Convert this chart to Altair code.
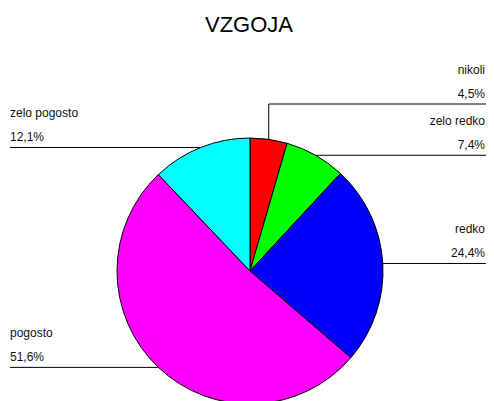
import math
import altair as alt
import pandas as pd

categories = ["nikoli", "zelo redko", "redko", "pogosto", "zelo pogosto"]
values = [4.5, 7.4, 24.4, 51.6, 12.1]
labels = ["4,5%", "7,4%", "24,4%", "51,6%", "12,1%"]
colors = ["#ff0000", "#00ff00", "#0000ff", "#ff00ff", "#00ffff"]
sides = ["right", "right", "right", "left", "left"]

W, H = 478, 393
CX, CY, R = 242, 263, 133
XL, XR = 2, 478
NIKOLI_LINE_Y = 96

pie_df = pd.DataFrame({"cat": categories, "value": values, "order": range(len(values))})

# leader lines computed from slice mid-angles
total = sum(values)
line_rows, text_rows = [], []
cum = 0.0
for i, (c, v, lab, side) in enumerate(zip(categories, values, labels, sides)):
    mid = (cum + v / 2) / total * 2 * math.pi
    cum += v
    ex = CX + R * math.sin(mid)
    ey = CY - R * math.cos(mid)
    pts = [(ex, ey)]
    if c == "nikoli":
        ly = NIKOLI_LINE_Y
        pts.append((ex, ly))
    else:
        ly = ey
    pts.append((XR if side == "right" else XL, ly))
    for k, (px, py) in enumerate(pts):
        line_rows.append({"cat": c, "k": k, "px": px, "py": py})
    text_rows.append({"cat": c, "txt": c, "side": side,
                      "tx": XR - 1 if side == "right" else XL, "ty": ly - 34})
    text_rows.append({"cat": c, "txt": lab, "side": side,
                      "tx": XR - 1 if side == "right" else XL, "ty": ly - 10})

lines_df = pd.DataFrame(line_rows)
text_df = pd.DataFrame(text_rows)

xs = alt.Scale(domain=[0, W], range=[0, W])
ys = alt.Scale(domain=[0, H], range=[0, H])

pie = alt.Chart(pie_df).mark_arc(outerRadius=R, stroke="black", strokeWidth=1).encode(
    theta=alt.Theta("value:Q", stack=True),
    color=alt.Color("cat:N", scale=alt.Scale(domain=categories, range=colors), legend=None),
    order=alt.Order("order:Q"),
    x=alt.value(CX),
    y=alt.value(CY),
)

leaders = alt.Chart(lines_df).mark_line(color="black", strokeWidth=1).encode(
    x=alt.X("px:Q", scale=xs, axis=None),
    y=alt.Y("py:Q", scale=ys, axis=None),
    detail="cat:N",
    order="k:Q",
)

txt_r = alt.Chart(text_df).transform_filter("datum.side == 'right'").mark_text(
    align="right", baseline="middle", font="Liberation Sans", fontSize=12, color="#111111"
).encode(
    x=alt.X("tx:Q", scale=xs, axis=None),
    y=alt.Y("ty:Q", scale=ys, axis=None),
    text="txt:N",
)
txt_l = alt.Chart(text_df).transform_filter("datum.side == 'left'").mark_text(
    align="left", baseline="middle", font="Liberation Sans", fontSize=12, color="#111111"
).encode(
    x=alt.X("tx:Q", scale=xs, axis=None),
    y=alt.Y("ty:Q", scale=ys, axis=None),
    text="txt:N",
)

chart = alt.layer(pie, leaders, txt_r, txt_l).properties(
    width=W, height=H,
    autosize=alt.AutoSizeParams(type="none"),
    padding=0,
    title=alt.TitleParams("VZGOJA", anchor="start", fontSize=22, font="Liberation Sans",
                          fontWeight="normal", color="black", offset=0, dy=46, dx=197,
                          baseline="alphabetic"),
).configure_view(stroke=None)

chart.save("out.html", embed_options={"renderer": "svg", "actions": False})
